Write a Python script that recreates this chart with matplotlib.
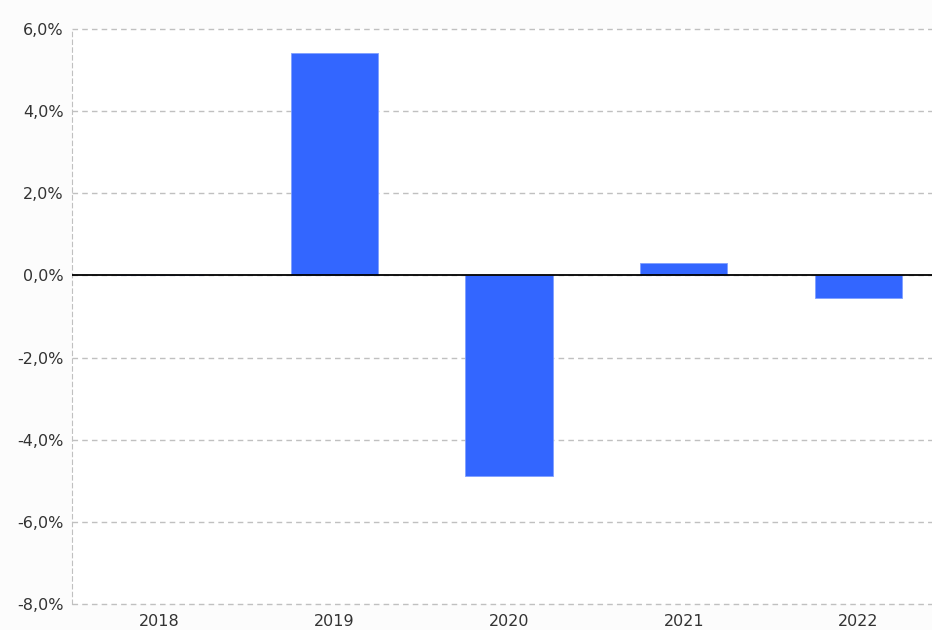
import matplotlib.pyplot as plt
from matplotlib.ticker import FuncFormatter

plt.rcParams['font.family'] = ['DejaVu Sans']

years = ['2018', '2019', '2020', '2021', '2022']
changes = [0.0, 5.42, -4.88, 0.29, -0.54]

fig = plt.figure(figsize=(9.32, 6.3), dpi=100, facecolor='#fcfcfc')
ax = fig.add_axes([0.0773, 0.0413, 0.9227, 0.9127], facecolor='#ffffff')

x = list(range(len(years)))
ax.bar(x, changes, width=0.5, color='#3366ff', edgecolor='#7f9fff', linewidth=0.6, zorder=3)
ax.axhline(0, color='black', linewidth=1.3, zorder=4)

ax.set_ylim(-8, 6)
ax.set_xlim(-0.5, 4.42)
ax.set_yticks(range(-8, 7, 2))
ax.yaxis.set_major_formatter(FuncFormatter(lambda v, p: f'{v:.1f}%'.replace('.', ',')))
ax.set_xticks(x)
ax.set_xticklabels(years)

ax.grid(axis='y', color='#c0c0c0', linestyle=(0, (4, 3)), linewidth=1, zorder=0)
for line in ax.get_ygridlines():
    line.set_clip_on(False)
for side in ['top', 'right', 'bottom']:
    ax.spines[side].set_visible(False)
ax.spines['left'].set_color('#c0c0c0')
ax.spines['left'].set_linestyle((0, (4, 3)))
ax.tick_params(axis='both', length=0, labelsize=11.5, labelcolor='#333333')
ax.tick_params(axis='y', pad=6)
ax.tick_params(axis='x', pad=7)

fig.savefig('out.png', dpi=100, facecolor=fig.get_facecolor())
